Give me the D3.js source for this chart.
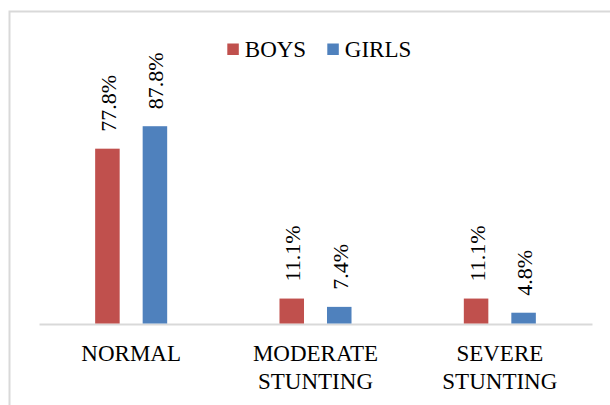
<!DOCTYPE html>
<html>
<head>
<meta charset="utf-8">
<script src="https://cdn.jsdelivr.net/npm/d3@7"></script>
</head>
<body style="margin:0">
<script>
const categories = [["NORMAL"], ["MODERATE", "STUNTING"], ["SEVERE", "STUNTING"]];
const categoryKeys = ["NORMAL", "MODERATE STUNTING", "SEVERE STUNTING"];
const seriesNames = ["BOYS", "GIRLS"];
const boysValues = [77.8, 11.1, 11.1];
const girlsValues = [87.8, 7.4, 4.8];
const seriesColors = ["#C0504D", "#4F81BD"];

const W = 610, H = 405;
const FONT = "Liberation Serif";
const svg = d3.select("body").append("svg")
  .attr("width", W).attr("height", H)
  .style("display", "block")
  .attr("font-family", FONT);

// chart border (cropped on right/bottom)
svg.append("rect")
  .attr("x", 9.5).attr("y", 11.5)
  .attr("width", 700).attr("height", 500)
  .attr("fill", "none").attr("stroke", "#d9d9d9").attr("stroke-width", 2);

const x = d3.scaleBand().domain(categoryKeys).range([39, 592]);
const xs = d3.scaleBand().domain(seriesNames).range([0, x.bandwidth()])
  .paddingInner(0.484).paddingOuter(1.182);
const y = d3.scaleLinear().domain([0, 100]).range([323.5, 98.8]);

const seriesValues = [boysValues, girlsValues];
const data = [];
categoryKeys.forEach((c, i) => {
  seriesNames.forEach((s, j) => {
    data.push({ cat: c, series: s, value: seriesValues[j][i], color: seriesColors[j] });
  });
});

// axis line
const axisG = svg.append("g").attr("transform", `translate(0,${y(0) + 0.5})`);
axisG.call(d3.axisBottom(x).tickSize(0).tickFormat(""));
axisG.select(".domain").attr("stroke", "#d9d9d9").attr("stroke-width", 2);
axisG.attr("font-family", FONT);

// bars
svg.append("g").selectAll("rect").data(data).join("rect")
  .attr("x", d => x(d.cat) + xs(d.series))
  .attr("width", xs.bandwidth())
  .attr("y", d => y(d.value))
  .attr("height", d => y(0) - y(d.value))
  .attr("fill", d => d.color);

// value labels
svg.append("g").selectAll("text").data(data).join("text")
  .attr("transform", d => {
    const cx = x(d.cat) + xs(d.series) + xs.bandwidth() / 2 + 8.5;
    const cy = y(d.value) - 17;
    return `translate(${cx},${cy}) rotate(-90)`;
  })
  .attr("text-anchor", "start")
  .attr("font-family", FONT)
  .attr("font-size", 22)
  .text(d => d.value.toFixed(1) + "%");

// category labels
const catG = svg.append("g");
categoryKeys.forEach((c, i) => {
  const t = catG.append("text")
    .attr("x", x(c) + x.bandwidth() / 2)
    .attr("y", 360.5)
    .attr("text-anchor", "middle")
    .attr("font-family", FONT)
    .attr("font-size", 23);
  categories[i].forEach((line, k) => {
    t.append("tspan")
      .attr("x", x(c) + x.bandwidth() / 2)
      .attr("dy", k === 0 ? 0 : 28)
      .text(line);
  });
});

// legend
const legendX = [227.3, 327.3];
const leg = svg.append("g");
seriesNames.forEach((s, j) => {
  leg.append("rect")
    .attr("x", legendX[j]).attr("y", 43.5)
    .attr("width", 11.5).attr("height", 11.5)
    .attr("fill", seriesColors[j]);
  leg.append("text")
    .attr("x", legendX[j] + 17.5).attr("y", 57.3)
    .attr("font-family", FONT)
    .attr("font-size", 23)
    .text(s);
});
</script>
</body>
</html>
